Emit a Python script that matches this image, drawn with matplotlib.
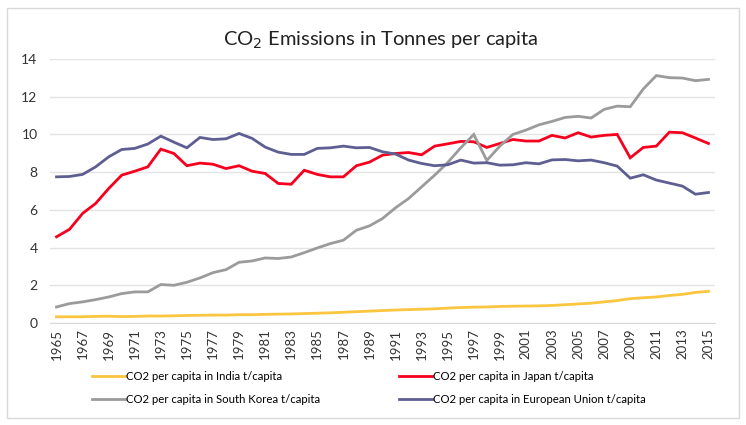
import matplotlib.pyplot as plt
from matplotlib.patches import Rectangle
import numpy as np

years = list(range(1965, 2016))

india = [0.33, 0.33, 0.33, 0.35, 0.36, 0.34, 0.35, 0.37, 0.37, 0.38,
         0.40, 0.41, 0.42, 0.42, 0.44, 0.44, 0.46, 0.47, 0.48, 0.50,
         0.52, 0.54, 0.57, 0.60, 0.63, 0.66, 0.69, 0.71, 0.73, 0.75,
         0.79, 0.82, 0.84, 0.85, 0.88, 0.89, 0.90, 0.91, 0.93, 0.97,
         1.01, 1.05, 1.12, 1.19, 1.29, 1.34, 1.38, 1.46, 1.52, 1.62, 1.68]

japan = [4.57, 4.97, 5.81, 6.34, 7.13, 7.84, 8.05, 8.28, 9.22, 8.99,
         8.34, 8.48, 8.42, 8.19, 8.34, 8.05, 7.93, 7.40, 7.36, 8.10,
         7.88, 7.75, 7.75, 8.34, 8.53, 8.90, 8.99, 9.04, 8.92, 9.38,
         9.50, 9.63, 9.61, 9.31, 9.52, 9.73, 9.65, 9.65, 9.95, 9.81,
         10.09, 9.86, 9.95, 10.00, 8.76, 9.31, 9.38, 10.12, 10.09, 9.81, 9.52]

south_korea = [0.85, 1.03, 1.12, 1.24, 1.38, 1.56, 1.65, 1.65, 2.04, 2.00,
               2.16, 2.39, 2.67, 2.83, 3.22, 3.29, 3.45, 3.42, 3.50, 3.73,
               3.98, 4.21, 4.39, 4.92, 5.15, 5.54, 6.11, 6.60, 7.22, 7.84,
               8.51, 9.29, 10.00, 8.62, 9.38, 10.00, 10.23, 10.51, 10.69, 10.90,
               10.96, 10.87, 11.33, 11.50, 11.47, 12.41, 13.12, 13.01, 12.99, 12.85, 12.92]

eu = [7.75, 7.77, 7.88, 8.28, 8.81, 9.20, 9.26, 9.49, 9.91, 9.59,
      9.29, 9.84, 9.73, 9.77, 10.05, 9.79, 9.33, 9.06, 8.94, 8.94,
      9.26, 9.29, 9.38, 9.29, 9.31, 9.08, 8.96, 8.64, 8.46, 8.34,
      8.39, 8.64, 8.48, 8.50, 8.37, 8.39, 8.50, 8.44, 8.65, 8.67,
      8.60, 8.64, 8.50, 8.32, 7.68, 7.86, 7.58, 7.42, 7.26, 6.83, 6.92]

labels = ['CO2 per capita in India t/capita',
          'CO2 per capita in Japan t/capita',
          'CO2 per capita in South Korea t/capita',
          'CO2 per capita in European Union t/capita']
colors = ['#FAC53F', '#F7001E', '#9B9B9B', '#5E5E93']

plt.rcParams['font.family'] = ['Lato', 'DejaVu Sans']

fig = plt.figure(figsize=(7.46, 4.25), dpi=100)
# light frame round the whole chart
fig.patches.append(Rectangle((7 / 746, 1 - 418 / 425), 732 / 746, 410 / 425,
                             transform=fig.transFigure, fill=False,
                             edgecolor='#D9D9D9', linewidth=1))

ax = fig.add_axes([50 / 746, 1 - 323 / 425, 665 / 746, 264 / 425])
x = np.arange(len(years))
lines = []
for vals, lab, col in zip([india, japan, south_korea, eu], labels, colors):
    ln, = ax.plot(x, vals, color=col, linewidth=2.0, label=lab,
                  solid_joinstyle='miter')
    lines.append(ln)

ax.set_xlim(-0.5, len(years) - 0.5)
ax.set_ylim(0, 14)
ax.set_yticks(range(0, 15, 2))
ax.set_xticks(x[::2])
ax.set_xticklabels([str(y) for y in years[::2]], rotation=90, fontsize=9.5)
ax.tick_params(axis='y', labelsize=10, length=0, pad=9, labelcolor='#333333')
ax.tick_params(axis='x', length=0, pad=4, labelcolor='#333333')
ax.grid(axis='y', color='#E3E3E3', linewidth=1)
ax.set_axisbelow(True)
for s in ['top', 'right', 'left']:
    ax.spines[s].set_visible(False)
ax.spines['bottom'].set_color('#D9D9D9')

fig.text(0.51, 1 - 40 / 425, r'CO$_2$ Emissions in Tonnes per capita',
         ha='center', va='center', fontsize=14.5, color='#222222')

fig.legend([lines[0], lines[2], lines[1], lines[3]],
           [labels[0], labels[2], labels[1], labels[3]],
           ncol=2, frameon=False, fontsize=8.2,
           loc='center left', bbox_to_anchor=(83 / 746, 1 - 388 / 425),
           handlelength=2.9, handletextpad=0.1, columnspacing=6.9,
           labelspacing=1.0, borderpad=0.3)

fig.savefig('out.png', dpi=100)
